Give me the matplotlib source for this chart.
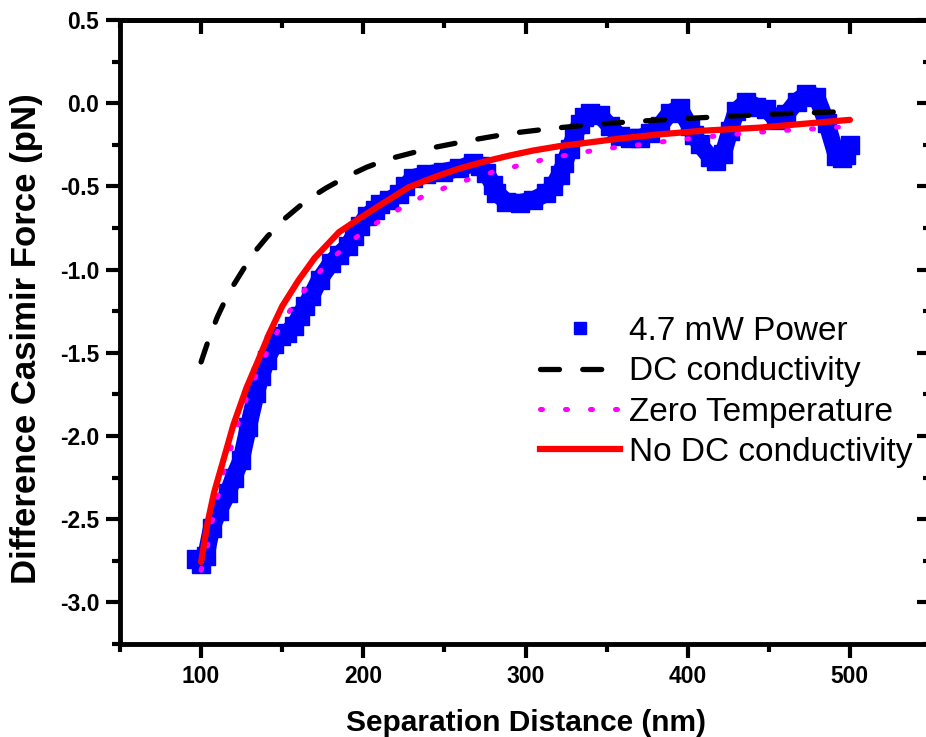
import matplotlib
matplotlib.use("Agg")
import matplotlib.pyplot as plt
from matplotlib.lines import Line2D
from matplotlib.ticker import MultipleLocator, FixedLocator, FormatStrFormatter

plt.rcParams['font.family'] = ['Liberation Sans', 'DejaVu Sans']
plt.rcParams['axes.unicode_minus'] = False

# ---- data ----
blue_x = [97, 100, 103, 106.5, 111, 116.4, 120, 124.7, 129.2, 133.9, 137, 140.5, 145,
          149.4, 153, 157, 161, 164, 167.9, 173, 180.2, 185, 190.4, 194, 197.7, 202,
          207, 210, 216, 222.3, 226, 230.6, 238.8, 249, 259.3, 267.6, 272, 275.8, 280,
          282, 288.2, 296.4, 304.6, 312.8, 317, 321, 324, 327.2, 330, 333.4, 336, 339.5,
          345.7, 351.9, 358, 364.2, 370.4, 376.5, 382.7, 388.9, 395, 401.2, 404, 407.4,
          413.6, 417.7, 421.8, 426, 430, 436.2, 442.4, 448.5, 454.7, 460.9, 467.1, 473.2,
          479.4, 485.6, 491.7, 495, 497.9, 500]
blue_y = [-2.74, -2.77, -2.72, -2.55, -2.45, -2.345, -2.25, -2.145, -1.944, -1.743, -1.64,
          -1.542, -1.45, -1.40, -1.38, -1.34, -1.28, -1.22, -1.16, -1.06, -0.96, -0.91,
          -0.86, -0.80, -0.74, -0.68, -0.64, -0.608, -0.58, -0.548, -0.50, -0.448, -0.428,
          -0.412, -0.392, -0.361, -0.38, -0.42, -0.49, -0.538, -0.592, -0.598, -0.583,
          -0.542, -0.50, -0.43, -0.36, -0.277, -0.20, -0.126, -0.08, -0.06, -0.07, -0.137,
          -0.20, -0.211, -0.211, -0.181, -0.137, -0.06, -0.03, -0.137, -0.19, -0.247,
          -0.321, -0.347, -0.307, -0.167, -0.046, 0.01, -0.02, -0.036, -0.10, -0.066,
          0.01, 0.054, 0.04, -0.116, -0.317, -0.33, -0.311, -0.25]

dc_x = [100, 105, 110, 117, 124, 132, 141, 152, 165, 177, 190, 202, 215, 241, 266, 291,
        317, 343, 367, 392, 418, 443, 467, 493, 500]
dc_y = [-1.555, -1.41, -1.285, -1.14, -1.03, -0.905, -0.80, -0.69, -0.584, -0.51, -0.44,
        -0.385, -0.337, -0.271, -0.223, -0.181, -0.151, -0.127, -0.110, -0.096, -0.082,
        -0.070, -0.060, -0.052, -0.050]

zero_x = [100, 104, 106.5, 110, 113, 117.5, 121.6, 126.3, 131.8, 138, 145.6, 154, 164.3,
          176.5, 191, 206, 221, 236, 251.5, 266.7, 282, 297, 312, 327, 342.6, 357.6, 373,
          388, 403, 418, 433, 448.5, 463.5, 479, 494, 500]
zero_y = [-2.807, -2.657, -2.526, -2.381, -2.245, -2.104, -1.964, -1.817, -1.679, -1.548,
          -1.398, -1.257, -1.116, -0.976, -0.839, -0.733, -0.643, -0.564, -0.504, -0.452,
          -0.408, -0.372, -0.337, -0.309, -0.283, -0.263, -0.247, -0.227, -0.211, -0.197,
          -0.183, -0.171, -0.161, -0.153, -0.143, -0.140]

nodc_x = [100, 104, 108, 113, 120, 128, 135, 142, 150, 160, 170, 185, 198, 210, 228, 245,
          260, 275, 290, 305, 321, 340, 360, 383, 410, 444, 470, 500]
nodc_y = [-2.757, -2.52, -2.34, -2.17, -1.93, -1.71, -1.55, -1.385, -1.22, -1.065, -0.93,
          -0.775, -0.69, -0.615, -0.505, -0.44, -0.39, -0.35, -0.315, -0.284, -0.258,
          -0.235, -0.21, -0.187, -0.165, -0.147, -0.125, -0.100]

labels = ["4.7 mW Power", "DC conductivity", "Zero Temperature", "No DC conductivity"]
x_ticks = [100, 200, 300, 400, 500]
y_ticks = [-3.0, -2.5, -2.0, -1.5, -1.0, -0.5, 0.0, 0.5]

# ---- figure ----
W, H = 926, 737
fig = plt.figure(figsize=(W / 100, H / 100), dpi=100)
ax = fig.add_axes([120 / W, 93 / H, 811 / W, 624 / H])

ax.plot(blue_x, blue_y, color='#0000ff', lw=12.5, marker='s', ms=12.5, mec='#0000ff',
        solid_joinstyle='round', solid_capstyle='butt', zorder=2)
ax.plot(dc_x, dc_y, color='black', lw=3.8, dashes=(3.6, 4.4), dash_capstyle='round', zorder=3)
ax.plot(zero_x, zero_y, color='#ff00ff', lw=3.6, dashes=(0.4, 4.6), dash_capstyle='round', zorder=4)
ax.plot(nodc_x, nodc_y, color='#ff0000', lw=4.5, solid_capstyle='round', zorder=5)

ax.set_xlim(50, 550)
ax.set_ylim(-3.25, 0.5)
ax.xaxis.set_major_locator(FixedLocator(x_ticks))
ax.xaxis.set_minor_locator(MultipleLocator(50))
ax.yaxis.set_major_locator(FixedLocator(y_ticks))
ax.yaxis.set_minor_locator(MultipleLocator(0.25))
ax.yaxis.set_major_formatter(FormatStrFormatter('%.1f'))

for s in ax.spines.values():
    s.set_linewidth(3.5)
ax.tick_params(which='major', direction='out', length=10, width=3, pad=5,
               labelsize=16.5, top=False, right=False)
ax.tick_params(which='minor', direction='out', length=5.5, width=3, top=False, right=False)
for lab in ax.get_xticklabels() + ax.get_yticklabels():
    lab.set_fontweight('bold')

# inward ticks on top and right
top = ax.secondary_xaxis('top')
top.xaxis.set_major_locator(FixedLocator(x_ticks))
top.xaxis.set_minor_locator(MultipleLocator(50))
top.tick_params(which='major', direction='in', length=10, width=3, labeltop=False)
top.tick_params(which='minor', direction='in', length=5.5, width=3)
top.spines['top'].set_linewidth(3.5)
right = ax.secondary_yaxis('right')
right.yaxis.set_major_locator(FixedLocator(y_ticks))
right.yaxis.set_minor_locator(MultipleLocator(0.25))
right.tick_params(which='major', direction='in', length=10, width=3, labelright=False)
right.tick_params(which='minor', direction='in', length=5.5, width=3)
right.spines['right'].set_linewidth(3.5)

ax.set_xlabel("Separation Distance (nm)", fontsize=21.5, fontweight='bold', labelpad=15.5)
ax.set_ylabel("Difference Casimir Force (pN)", fontsize=25, fontweight='bold', labelpad=12)
ax.yaxis.label.set_y(0.49)

handles = [
    Line2D([], [], color='#0000ff', marker='s', ls='none', ms=8.6),
    Line2D([], [], color='black', lw=3.8, dashes=(3.6, 4.4), dash_capstyle='round'),
    Line2D([], [], color='#ff00ff', lw=3.6, dashes=(0.4, 4.6), dash_capstyle='round'),
    Line2D([], [], color='#ff0000', lw=4.5),
]
fig.legend(handles, labels, loc='upper left', bbox_to_anchor=(540 / W, 1 - 316 / H),
           frameon=False, fontsize=24, handlelength=2.4, handletextpad=0.27,
           labelspacing=0.28, borderpad=0, borderaxespad=0)

fig.savefig("out.png", dpi=100)
